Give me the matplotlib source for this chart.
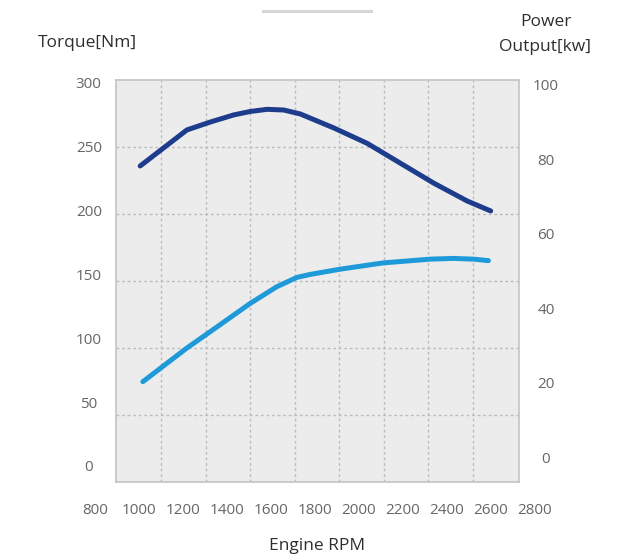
import matplotlib
matplotlib.use("Agg")
import matplotlib.pyplot as plt
from matplotlib.lines import Line2D

# Torque curve (left axis, Nm)
torque_rpm = [1005, 1215, 1320, 1425, 1500, 1575, 1650, 1725, 1875, 2025, 2175, 2325, 2475, 2580]
torque_nm = [235.8, 262.7, 268.6, 273.9, 276.5, 278.1, 277.6, 274.6, 264.2, 252.7, 237.8, 222.9, 209.6, 202.2]

# Power curve (right axis, kW)
power_rpm = [1017, 1214, 1319, 1499, 1619, 1709, 1769, 1903, 2098, 2308, 2413, 2503, 2570]
power_kw = [20.3, 29.3, 33.7, 41.3, 45.8, 48.3, 49.1, 50.5, 52.2, 53.2, 53.4, 53.2, 52.8]

x_ticks = list(range(800, 2801, 200))
grid_x = list(range(1100, 2501, 200))
torque_ticks = [0, 50, 100, 150, 200, 250, 300]
power_ticks = [0, 20, 40, 60, 80, 100]

TORQUE_COLOR = "#1d3c8c"
POWER_COLOR = "#1f9ad8"
TICK_COLOR = "#666666"
TITLE_COLOR = "#2e2e2e"

W, H = 618, 558
plt.rcParams["font.family"] = ["Open Sans", "DejaVu Sans"]


def px_rect(left, top, right, bottom):
    return [left / W, 1 - bottom / H, (right - left) / W, (bottom - top) / H]


fig = plt.figure(figsize=(W / 100, H / 100), dpi=100)

# main plotting area
ax = fig.add_axes(px_rect(115.7, 80, 518.7, 481.7))
ax.set_facecolor("#ececec")
ax.set_xlim(895, 2706)
ax.set_ylim(0, 300)
ax.set_xticks(grid_x)
ax.set_yticks(torque_ticks[1:-1])
ax.tick_params(length=0, labelbottom=False, labelleft=False)
ax.grid(True, color="#bcbcbc", linestyle=(0, (2, 2)), linewidth=1)
for sp in ax.spines.values():
    sp.set_color("#c4c4c4")
    sp.set_linewidth(1.2)

ax.plot(torque_rpm, torque_nm, color=TORQUE_COLOR, lw=3.6,
        solid_capstyle="round", solid_joinstyle="round", zorder=3)

# power on a twin axis
ax2 = ax.twinx()
ax2.set_ylim(-6.55, 101.3)
ax2.set_yticks(power_ticks)
ax2.tick_params(length=0, pad=19.7, labelsize=11, labelcolor=TICK_COLOR)
for lab in ax2.get_yticklabels():
    lab.set_horizontalalignment("center")
for sp in ax2.spines.values():
    sp.set_visible(False)
ax2.plot(power_rpm, power_kw, color=POWER_COLOR, lw=3.6,
         solid_capstyle="round", solid_joinstyle="round", zorder=3)

# left tick labels (own scale, as in the original artwork)
axl = fig.add_axes(px_rect(115.7, 80, 518.7, 481.7), facecolor="none")
axl.set_ylim(-12.3, 301.8)
axl.set_yticks(torque_ticks)
axl.set_xticks([])
axl.tick_params(length=0, pad=19.4, labelsize=11, labelcolor=TICK_COLOR)
for lab in axl.get_yticklabels():
    lab.set_horizontalalignment("center")
axl.set_frame_on(False)

# bottom tick labels
axx = fig.add_axes(px_rect(60, 480, 580, 481.7), facecolor="none")
axx.set_xlim(641, 3005)
axx.set_xticks(x_ticks)
axx.set_yticks([])
axx.tick_params(length=0, pad=15, labelsize=11, labelcolor=TICK_COLOR)
axx.set_frame_on(False)

# titles
fig.text(87 / W, 1 - 43.3 / H, "Torque[Nm]", ha="center", va="center",
         fontsize=12.5, color=TITLE_COLOR)
fig.text(545.8 / W, 1 - 21.7 / H, "Power", ha="center", va="center",
         fontsize=12.5, color=TITLE_COLOR)
fig.text(545 / W, 1 - 46.7 / H, "Output[kw]", ha="center", va="center",
         fontsize=12.5, color=TITLE_COLOR)
fig.text(317 / W, 1 - 546 / H, "Engine RPM", ha="center", va="center",
         fontsize=12.5, color=TITLE_COLOR)

# light gray bar at the top
fig.add_artist(Line2D([263.3 / W, 371 / W], [1 - 11 / H, 1 - 11 / H],
                      color="#d6d6d6", lw=2.2, transform=fig.transFigure))

fig.savefig("out.png", dpi=100)
